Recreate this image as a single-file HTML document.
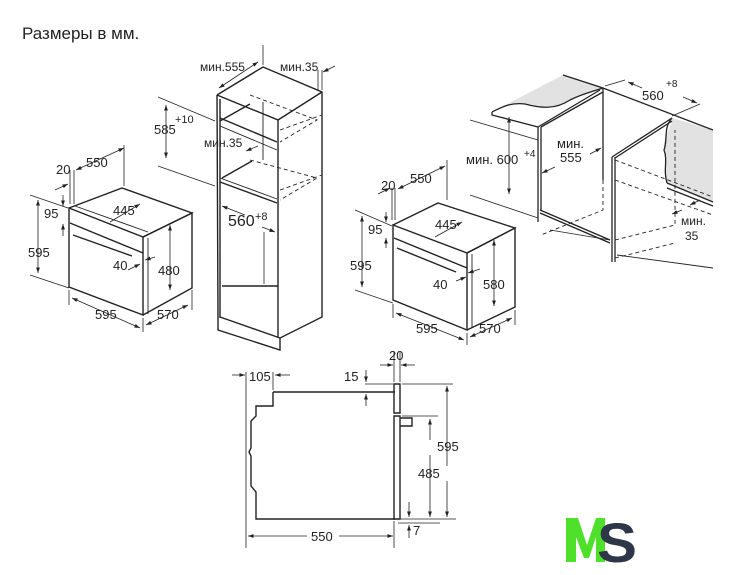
<!DOCTYPE html>
<html><head><meta charset="utf-8"><style>
html,body{margin:0;padding:0;background:#fff;}
svg{display:block}
text{font-family:"Liberation Sans",sans-serif;fill:#222;}
</style></head><body>
<svg width="735" height="575" viewBox="0 0 735 575" xmlns="http://www.w3.org/2000/svg">
<defs>
<marker id="a" viewBox="0 0 10 10" refX="10" refY="5" markerWidth="7" markerHeight="7" orient="auto-start-reverse"><path d="M0,1.5 L10,5 L0,8.5z" fill="#222"/></marker>
</defs>
<text x="22" y="39" font-size="17">Размеры в мм.</text>

<!-- LEFT OVEN -->
<g stroke="#222" fill="none" stroke-width="1.4">
<path d="M69,208 L143,237 L143,315 L69,287 Z" fill="#fff"/>
<path d="M69,208 L122,188 L192,213 L143,237"/>
<path d="M143,237 L192,213 L192,288 L143,315"/>
<path d="M70,223 L143,253"/>
<path d="M73,235 L132,256"/>
<path d="M148,238 L148,314" stroke-width="0.9"/>
<path d="M75,206 L148,232" stroke-width="0.9"/>
</g>
<g stroke="#222" stroke-width="0.8" fill="none">
<path d="M124,186 L124,145"/><path d="M74,204 L74,170"/><path d="M70,204 L70,170"/>
<path d="M76,170 L124,148" marker-start="url(#a)" marker-end="url(#a)"/>
<path d="M55,190 L68,184" marker-end="url(#a)"/>
<path d="M30,195 L68,208"/><path d="M30,275 L69,288"/>
<path d="M38,200 L38,273" marker-start="url(#a)" marker-end="url(#a)"/>
<path d="M63,195 L63,206" marker-end="url(#a)"/><path d="M63,236 L63,224" marker-end="url(#a)"/>
<path d="M110,222 L140,204" marker-end="url(#a)"/>
<path d="M170,225 L170,290" marker-start="url(#a)" marker-end="url(#a)"/>
<path d="M155,257 L145,260" marker-end="url(#a)"/><path d="M128,270 L140,264" marker-end="url(#a)"/>
<path d="M69,290 L69,305"/><path d="M143,318 L143,332"/><path d="M192,290 L192,310"/>
<path d="M72,298 L140,328" marker-start="url(#a)" marker-end="url(#a)"/>
<path d="M146,325 L188,305" marker-start="url(#a)" marker-end="url(#a)"/>
</g>
<g font-size="13">
<text x="86" y="167">550</text><text x="56" y="174">20</text>
<text x="44" y="218">95</text><text x="28" y="257">595</text>
<text x="113" y="215">445</text><text x="113" y="270">40</text>
<text x="158" y="275">480</text><text x="95" y="319">595</text><text x="157" y="319">570</text>
</g>

<!-- TALL CABINET -->
<g stroke="#222" fill="none" stroke-width="1.4">
<path d="M217,95 L263,67 L322,92 L322,317 L280,338 L280,350 L218,330 L218,317 L217,95"/>
<path d="M217,95 L278,120 L278,338"/>
<path d="M278,120 L322,92"/>
<path d="M220,99 L220,318"/>
<path d="M220,118 L277,142"/><path d="M220,126 L277,150" stroke-width="0.9"/>
<path d="M220,182 L277,203"/><path d="M220,178 L277,199" stroke-width="0.9"/>
<path d="M220,317 L280,338"/>
<path d="M220,121 L250,104"/><path d="M222,178 L252,161"/><path d="M222,286 L278,286"/>
<path d="M263,102 L263,160" stroke-width="0.9"/>
</g>
<g stroke="#222" fill="none" stroke-width="0.9" stroke-dasharray="4,3">
<path d="M250,95 L317,120 L280,142"/><path d="M250,160 L317,178 L280,200"/>
<path d="M280,130 L322,115"/><path d="M280,190 L322,175"/>
</g>
<g stroke="#222" stroke-width="0.8" fill="none">
<path d="M263,65 L263,45"/><path d="M322,90 L322,70"/><path d="M318,90 L318,70"/>
<path d="M219,88 L258,62" marker-start="url(#a)" marker-end="url(#a)"/>
<path d="M335,66 L323,72" marker-end="url(#a)"/>
<path d="M158,97 L215,121"/><path d="M158,166 L215,186"/>
<path d="M166,105 L166,158" marker-start="url(#a)" marker-end="url(#a)"/>
<path d="M258,146 L246,151" marker-end="url(#a)"/>
<path d="M222,206 L245,215" marker-start="url(#a)"/>
<path d="M262,227 L275,232" marker-end="url(#a)"/>
<path d="M264,232 L264,284"/>
</g>
<g font-size="13">
<text x="200" y="71" font-size="12">мин.555</text><text x="280" y="71" font-size="12">мин.35</text>
<text x="154" y="134">585</text><text x="175" y="123" font-size="11">+10</text>
<text x="204" y="147" font-size="12">мин.35</text>
<text x="228" y="226" font-size="16">560</text><text x="255" y="220" font-size="11">+8</text>
</g>

<!-- RIGHT OVEN -->
<g stroke="#222" fill="none" stroke-width="1.4">
<path d="M393,225 L467,253 L467,330 L393,300 Z" fill="#fff"/>
<path d="M393,225 L438,203 L515,228 L467,253"/>
<path d="M467,253 L515,228 L515,307 L467,330"/>
<path d="M394,238 L467,268"/>
<path d="M397,248 L456,272"/>
<path d="M472,254 L472,328" stroke-width="0.9"/>
</g>
<g stroke="#222" stroke-width="0.8" fill="none">
<path d="M447,200 L447,160"/><path d="M395,220 L395,188"/><path d="M392,220 L392,188"/>
<path d="M398,189 L445,166" marker-start="url(#a)" marker-end="url(#a)"/>
<path d="M378,194 L390,188" marker-end="url(#a)"/>
<path d="M355,210 L392,226"/><path d="M355,290 L393,303"/>
<path d="M362,216 L362,287" marker-start="url(#a)" marker-end="url(#a)"/>
<path d="M386,212 L386,222" marker-end="url(#a)"/><path d="M386,248 L386,238" marker-end="url(#a)"/>
<path d="M435,237 L462,222" marker-end="url(#a)"/>
<path d="M494,240 L494,306" marker-start="url(#a)" marker-end="url(#a)"/>
<path d="M480,269 L468,273" marker-end="url(#a)"/><path d="M456,281 L466,277" marker-end="url(#a)"/>
<path d="M393,304 L393,318"/><path d="M467,333 L467,345"/><path d="M515,310 L515,325"/>
<path d="M396,313 L464,340" marker-start="url(#a)" marker-end="url(#a)"/>
<path d="M470,337 L512,318" marker-start="url(#a)" marker-end="url(#a)"/>
</g>
<g font-size="13">
<text x="410" y="183">550</text><text x="381" y="190">20</text>
<text x="368" y="234">95</text><text x="350" y="270">595</text>
<text x="435" y="229">445</text><text x="433" y="289">40</text>
<text x="483" y="289">580</text><text x="416" y="333">595</text><text x="479" y="333">570</text>
</g>

<!-- NICHE -->
<path d="M492,112 L563,75 L603,88 C590,92 580,95 570,100 C555,110 540,108 525,104 C510,102 500,108 492,112 Z" fill="#e2e2e2"/>
<path d="M672,118 L713,130 L713,202 L667,183 C663,170 668,160 664,150 C662,138 672,128 672,118Z" fill="#e2e2e2"/>
<g stroke="#222" fill="none" stroke-width="1.3">
<path d="M492,112 C500,108 510,102 525,104 C540,108 555,110 570,100 C580,95 590,92 603,88"/>
<path d="M492,112 L492,115 L538,127"/>
<path d="M563,75 L603,88 L713,130"/>
<path d="M538,127 L538,222"/><path d="M541,127 L541,210"/>
<path d="M538,127 L600,90"/><path d="M541,127 L603,92"/>
<path d="M603,88 L603,180"/>
<path d="M540,210 L610,240"/><path d="M540,213 L610,243"/>
<path d="M612,157 L612,262"/><path d="M615,157 L615,262"/>
<path d="M612,157 L672,118"/><path d="M615,158 L672,121"/>
<path d="M672,118 C663,128 668,140 664,150 C668,160 663,170 667,183"/>
<path d="M667,183 L713,202"/><path d="M667,188 L713,206"/>
<path d="M617,255 L713,268" stroke-width="0.9"/>
</g>
<g stroke="#222" fill="none" stroke-width="0.9" stroke-dasharray="4,3">
<path d="M603,180 L603,210 L541,235"/>
<path d="M615,160 L713,197"/><path d="M615,180 L713,215"/>
<path d="M615,240 L675,225 L675,130"/><path d="M615,258 L675,243"/>
</g>
<g stroke="#222" stroke-width="0.8" fill="none">
<path d="M470,120 L538,140"/><path d="M470,195 L538,218"/>
<path d="M509,117 L509,194" marker-start="url(#a)" marker-end="url(#a)"/>
<path d="M550,230 L610,240"/>
<path d="M590,154 L601,148" marker-end="url(#a)"/>
<path d="M555,167 L542,173" marker-end="url(#a)"/>
<path d="M605,86 L625,80"/><path d="M672,116 L700,104"/>
<path d="M628,82 L642,88" marker-start="url(#a)"/>
<path d="M683,97 L697,103" marker-end="url(#a)"/>
<path d="M700,200 L690,205" marker-end="url(#a)"/>
<path d="M682,210 L672,214" marker-end="url(#a)"/>
</g>
<g font-size="13">
<text x="466" y="164">мин. 600</text><text x="524" y="157" font-size="10">+4</text>
<text x="557" y="148">мин.</text><text x="560" y="162">555</text>
<text x="642" y="100">560</text><text x="666" y="87" font-size="10">+8</text>
<text x="681" y="225" font-size="12">мин.</text><text x="685" y="240" font-size="12">35</text>
</g>

<!-- SIDE SECTION -->
<g stroke="#222" fill="none" stroke-width="1.4">
<path d="M273,392 L395,392"/>
<path d="M273,392 L273,406 L256,406 L256,416 L251,421 L251,448 L249,452 L251,456 L251,486 L256,492 L256,519 L395,519"/>
<path d="M394,384 L400,384 L400,413 L394,413 Z"/>
<path d="M394,416 L400,416 L400,519 L394,519 Z"/>
<path d="M400,418 L412,418 L412,426 L400,426"/>
</g>
<g stroke="#222" stroke-width="0.8" fill="none">
<path d="M246,372 L246,548"/>
<path d="M273,372 L273,390"/>
<path d="M232,375 L245,375" marker-end="url(#a)"/><path d="M290,375 L275,375" marker-end="url(#a)"/>
<path d="M394,352 L394,382"/><path d="M400,352 L400,382"/>
<path d="M380,365 L393,365" marker-end="url(#a)"/><path d="M415,365 L401,365" marker-end="url(#a)"/>
<path d="M365,384 L393,384"/>
<path d="M366,370 L366,382" marker-end="url(#a)"/><path d="M366,406 L366,394" marker-end="url(#a)"/>
<path d="M402,384 L453,384"/><path d="M402,416 L438,416"/><path d="M398,519 L456,519"/><path d="M398,523 L440,523"/>
<path d="M447,386 L447,517" marker-start="url(#a)" marker-end="url(#a)"/>
<path d="M430,419 L430,517" marker-start="url(#a)" marker-end="url(#a)"/>
<path d="M409,502 L409,517" marker-end="url(#a)"/><path d="M409,538 L409,525" marker-end="url(#a)"/>
<path d="M394,521 L394,548"/>
<path d="M248,536 L393,536" marker-start="url(#a)" marker-end="url(#a)"/>
</g>
<rect x="307" y="528" width="32" height="15" fill="#fff"/>
<rect x="416" y="440" width="28" height="15" fill="#fff"/>
<rect x="432" y="466" width="30" height="15" fill="#fff"/>
<g font-size="13">
<text x="249" y="381">105</text><text x="389" y="360">20</text><text x="344" y="381">15</text>
<text x="437" y="451">595</text><text x="418" y="478">485</text>
<text x="311" y="541">550</text><text x="413" y="535">7</text>
</g>

<!-- LOGO -->
<path d="M566,562 L566,518 L578,518 L587,545 L596,518 L605,518 L605,562 L596,562 L596,537 L589,558 L584,558 L576,537 L576,562 Z" fill="#4ee02a"/>
<text x="597" y="562" font-size="56" font-weight="bold" style="fill:#2d3748" textLength="40" lengthAdjust="spacingAndGlyphs">S</text>
</svg>
</body></html>
